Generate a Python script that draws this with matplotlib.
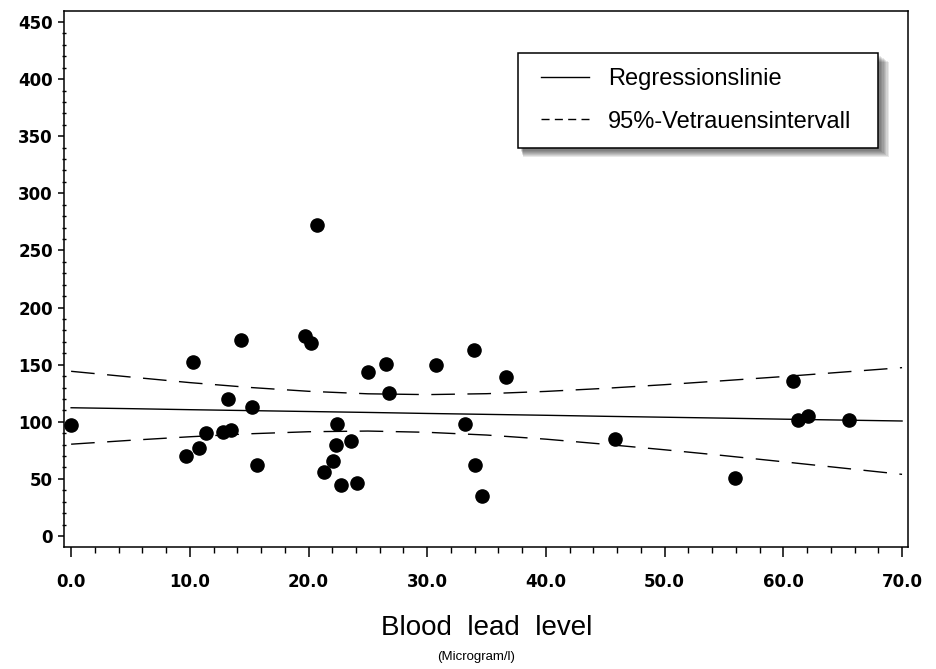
# scatter of blood lead level with regression line and 95% band
import matplotlib
matplotlib.use("Agg")
import matplotlib.pyplot as plt
from matplotlib.lines import Line2D
from matplotlib.patches import Rectangle
from matplotlib.ticker import MultipleLocator, FormatStrFormatter

lead = [0.0, 10.3, 9.7, 10.8, 11.4, 12.8, 13.5, 13.2, 14.3, 15.2, 15.7,
        19.7, 20.2, 20.7, 21.3, 22.1, 22.3, 22.4, 22.7, 23.6, 24.1,
        25.0, 26.5, 26.8, 30.7, 33.2, 33.9, 34.0, 34.6, 36.6,
        45.8, 55.9, 60.8, 61.2, 62.1, 65.5]
value = [97, 152, 70, 77, 90, 91, 93, 120, 172, 113, 62,
         175, 169, 272, 56, 66, 80, 98, 45, 83, 46,
         144, 151, 125, 150, 98, 163, 62, 35, 139,
         85, 51, 136, 102, 105, 102]

# regression line and confidence band
fit_x = [0, 5, 10, 15, 20, 25, 30, 35, 40, 45, 50, 55, 60, 65, 70]
fit_y = [112.3, 111.5, 110.6, 109.8, 109.0, 108.2, 107.3, 106.5, 105.7,
         104.8, 104.0, 103.2, 102.3, 101.5, 100.7]
ci_hi = [144.2, 139.2, 134.3, 130.1, 126.7, 124.5, 123.8, 124.6, 126.6,
         129.3, 132.5, 136.0, 139.6, 143.5, 147.4]
ci_lo = [80.4, 83.8, 86.9, 89.5, 91.3, 91.9, 90.8, 88.4, 84.8,
         80.3, 75.5, 70.4, 65.0, 59.5, 54.0]

labels = ["Regressionslinie", "95%-Vetrauensintervall"]

W, H = 936, 669
fig = plt.figure(figsize=(W / 100, H / 100), dpi=100)
ax = fig.add_axes([64 / W, 1 - 547 / H, 844 / W, 536 / H])

ax.plot(fit_x, fit_y, color="black", lw=1.0)
ax.plot(fit_x, ci_hi, color="black", lw=1.0, dashes=(17, 9))
ax.plot(fit_x, ci_lo, color="black", lw=1.0, dashes=(17, 9))
ax.scatter(lead, value, s=90, color="black", zorder=3)

ax.set_xlim(-0.6, 70.5)
ax.set_ylim(-9.6, 459.6)

# ticks
ax.xaxis.set_major_locator(MultipleLocator(10))
ax.xaxis.set_minor_locator(MultipleLocator(2))
ax.yaxis.set_major_locator(MultipleLocator(50))
ax.yaxis.set_minor_locator(MultipleLocator(10))
ax.xaxis.set_major_formatter(FormatStrFormatter("%.1f"))
ax.yaxis.set_major_formatter(FormatStrFormatter("%d"))
ax.tick_params(axis="x", which="major", direction="out", length=7, width=1.1, pad=12)
ax.tick_params(axis="x", which="minor", direction="out", length=4, width=1.0)
ax.tick_params(axis="y", which="major", direction="out", length=4, width=1.1, pad=4)
ax.tick_params(axis="y", which="minor", direction="inout", length=3, width=1.0)
for lab in ax.get_xticklabels() + ax.get_yticklabels():
    lab.set_fontfamily("DejaVu Sans")
    lab.set_fontweight("bold")
    lab.set_fontsize(12)
for sp in ax.spines.values():
    sp.set_linewidth(1.1)

# axis title
fig.text(487 / W, 1 - 628 / H, "Blood  lead  level", ha="center", va="center",
         family="Liberation Sans", fontsize=20)
fig.text(476 / W, 1 - 657 / H, "(Microgram/l)", ha="center", va="center",
         family="Liberation Sans", fontsize=9.5)

# legend box with a soft shadow (frame drawn by hand)
bx0, by0, bw, bh = 518, 53, 360, 95
for k in range(7):
    fig.add_artist(Rectangle(((bx0 + 3 + k * 0.3) / W, 1 - (by0 + bh + 3 + k) / H),
                             (bw + k) / W, (bh) / H,
                             transform=fig.transFigure, facecolor="black",
                             edgecolor="none", alpha=0.09, zorder=4))
fig.add_artist(Rectangle((bx0 / W, 1 - (by0 + bh) / H), bw / W, bh / H,
                         transform=fig.transFigure, facecolor="white",
                         edgecolor="black", lw=1.1, zorder=5))
handles = [Line2D([], [], color="black", lw=1.0),
           Line2D([], [], color="black", lw=1.0, dashes=(5.8, 3.8))]
leg = fig.legend(handles, labels, loc="center left",
                 bbox_to_anchor=(541 / W, 1 - 100.5 / H),
                 prop={"family": "Liberation Sans", "size": 17},
                 handlelength=2.03, handletextpad=0.8, labelspacing=0.86,
                 borderpad=0, borderaxespad=0, frameon=False)
leg.set_zorder(6)

fig.savefig("out.png", dpi=100, facecolor="white")
